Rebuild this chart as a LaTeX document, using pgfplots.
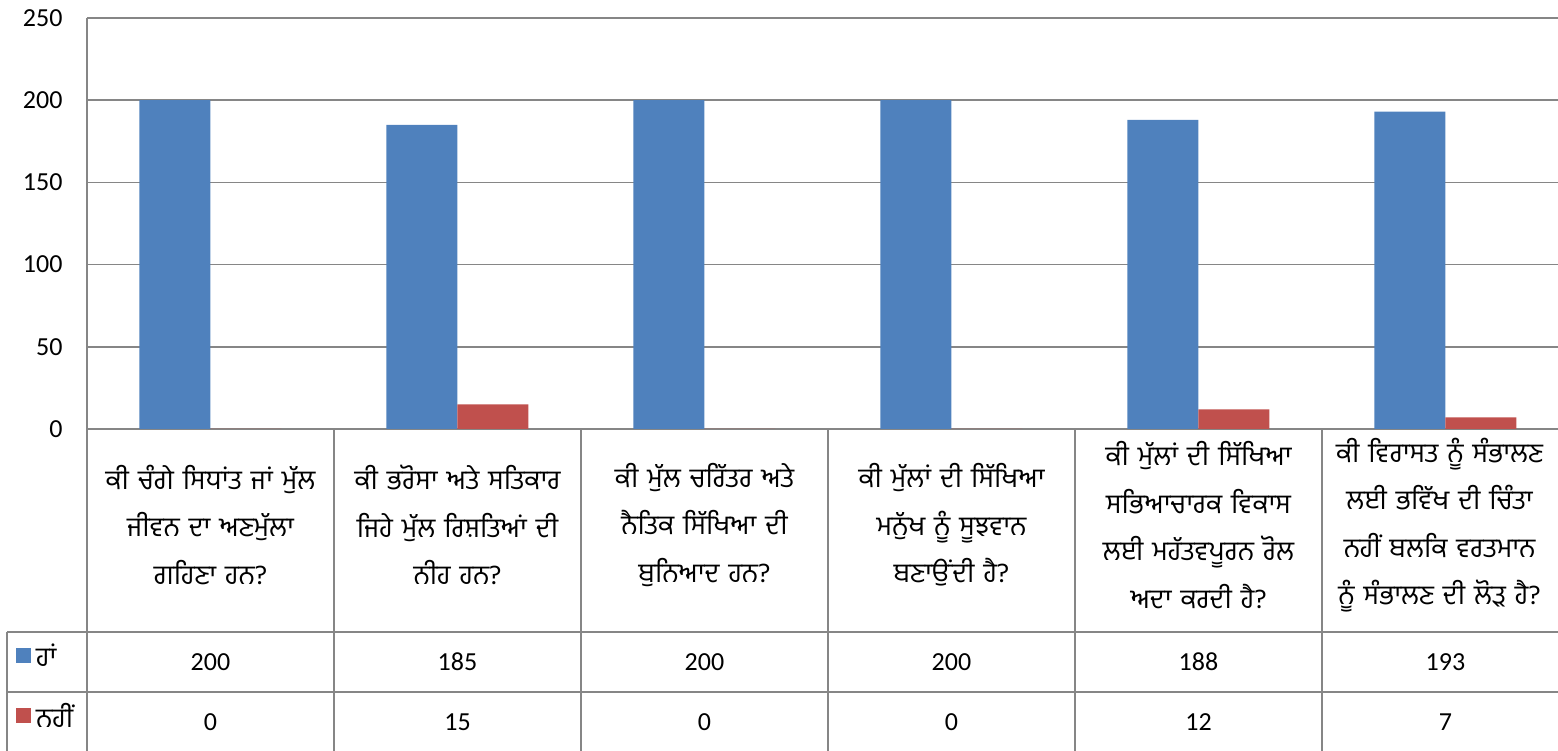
\documentclass[border=0pt]{standalone}
\usepackage{fontspec}
\setmainfont{Carlito}
\newfontfamily\gur[Script=Gurmukhi]{Hind Jalandhar}
\usepackage{pgfplots}
\pgfplotsset{compat=1.18}
\definecolor{bblue}{RGB}{79,129,189}
\definecolor{bred}{RGB}{192,80,77}
\definecolor{ggray}{RGB}{134,134,134}
\begin{document}
\begin{tikzpicture}[x=1pt,y=1pt]
\path[use as bounding box] (-87,-322) rectangle (1471,429);
\begin{scope}
\clip (-87,-322) rectangle (1471,429);
\begin{axis}[
  at={(0,0)}, anchor=south west,
  scale only axis, width=1482pt, height=411pt,
  xmin=-0.5, xmax=5.5, ymin=0, ymax=250,
  ybar=0pt, bar width=71pt,
  xtick=\empty,
  ytick={0,50,100,150,200,250},
  ymajorgrids, grid style={draw=ggray, line width=1.5pt},
  axis x line=bottom, axis y line=left,
  axis line style={-, draw=ggray, line width=1.5pt},
  major tick length=0pt,
  /pgf/number format/assume math mode=true,
  yticklabel style={font=\fontsize{26}{30}\selectfont, xshift=-21pt},
  clip=false,
]
\addplot[fill=bblue, draw=none] coordinates {(0,200) (1,185) (2,200) (3,200) (4,188) (5,193)};
\addplot[fill=bred, draw=none] coordinates {(0,0) (1,15) (2,0) (3,0) (4,12) (5,7)};
\end{axis}
% table grid
\foreach \k in {0,1,...,5} {
  \draw[ggray, line width=1.5pt] ({\k*247},0) -- ({\k*247},-322);
}
\draw[ggray, line width=1.5pt] (-80,-203) -- (1471,-203);
\draw[ggray, line width=1.5pt] (-80,-263) -- (1471,-263);
\draw[ggray, line width=1.5pt] (-80,-203) -- (-80,-322);
\end{scope}
% category labels
\tikzset{cat/.style={anchor=center, align=center, text width=244pt, inner sep=0pt, font=\gur\fontsize{27}{47.5}\selectfont}}
\node[cat] at ({0.5*247},-96) {ਕੀ ਚੰਗੇ ਸਿਧਾਂਤ ਜਾਂ ਮੁੱਲ\\ ਜੀਵਨ ਦਾ ਅਣਮੁੱਲਾ\\ ਗਹਿਣਾ ਹਨ?};
\node[cat] at ({1.5*247},-96) {ਕੀ ਭਰੋਸਾ ਅਤੇ ਸਤਿਕਾਰ\\ ਜਿਹੇ ਮੁੱਲ ਰਿਸ਼ਤਿਆਂ ਦੀ\\ ਨੀਹ ਹਨ?};
\node[cat] at ({2.5*247},-96) {ਕੀ ਮੁੱਲ ਚਰਿੱਤਰ ਅਤੇ\\ ਨੈਤਿਕ ਸਿੱਖਿਆ ਦੀ\\ ਬੁਨਿਆਦ ਹਨ?};
\node[cat] at ({3.5*247},-96) {ਕੀ ਮੁੱਲਾਂ ਦੀ ਸਿੱਖਿਆ\\ ਮਨੁੱਖ ਨੂੰ ਸੂਝਵਾਨ\\ ਬਣਾਉਂਦੀ ਹੈ?};
\node[cat] at ({4.5*247},-96) {ਕੀ ਮੁੱਲਾਂ ਦੀ ਸਿੱਖਿਆ\\ ਸਭਿਆਚਾਰਕ ਵਿਕਾਸ\\ ਲਈ ਮਹੱਤਵਪੂਰਨ ਰੋਲ\\ ਅਦਾ ਕਰਦੀ ਹੈ?};
\node[cat] at ({5.5*247-6},-96) {ਕੀ ਵਿਰਾਸਤ ਨੂੰ ਸੰਭਾਲਣ\\ ਲਈ ਭਵਿੱਖ ਦੀ ਚਿੰਤਾ\\ ਨਹੀਂ ਬਲਕਿ ਵਰਤਮਾਨ\\ ਨੂੰ ਸੰਭਾਲਣ ਦੀ ਲੋੜ ਹੈ?};
% values
\tikzset{val/.style={anchor=center, font=\fontsize{26}{30}\selectfont}}
\foreach \v [count=\i from 0] in {200,185,200,200,188,193} {
  \node[val] at ({(\i+0.5)*247},-233) {\v};
}
\foreach \v [count=\i from 0] in {0,15,0,0,12,7} {
  \node[val] at ({(\i+0.5)*247},-293) {\v};
}
% legend keys
\fill[bblue] (-71,-219) rectangle (-56,-234);
\fill[bred] (-71,-279) rectangle (-56,-294);
\node[anchor=west, font=\gur\fontsize{27}{30}\selectfont, inner sep=0pt] at (-51,-226) {ਹਾਂ};
\node[anchor=west, font=\gur\fontsize{27}{30}\selectfont, inner sep=0pt] at (-51,-286) {ਨਹੀਂ};
\end{tikzpicture}
\end{document}
